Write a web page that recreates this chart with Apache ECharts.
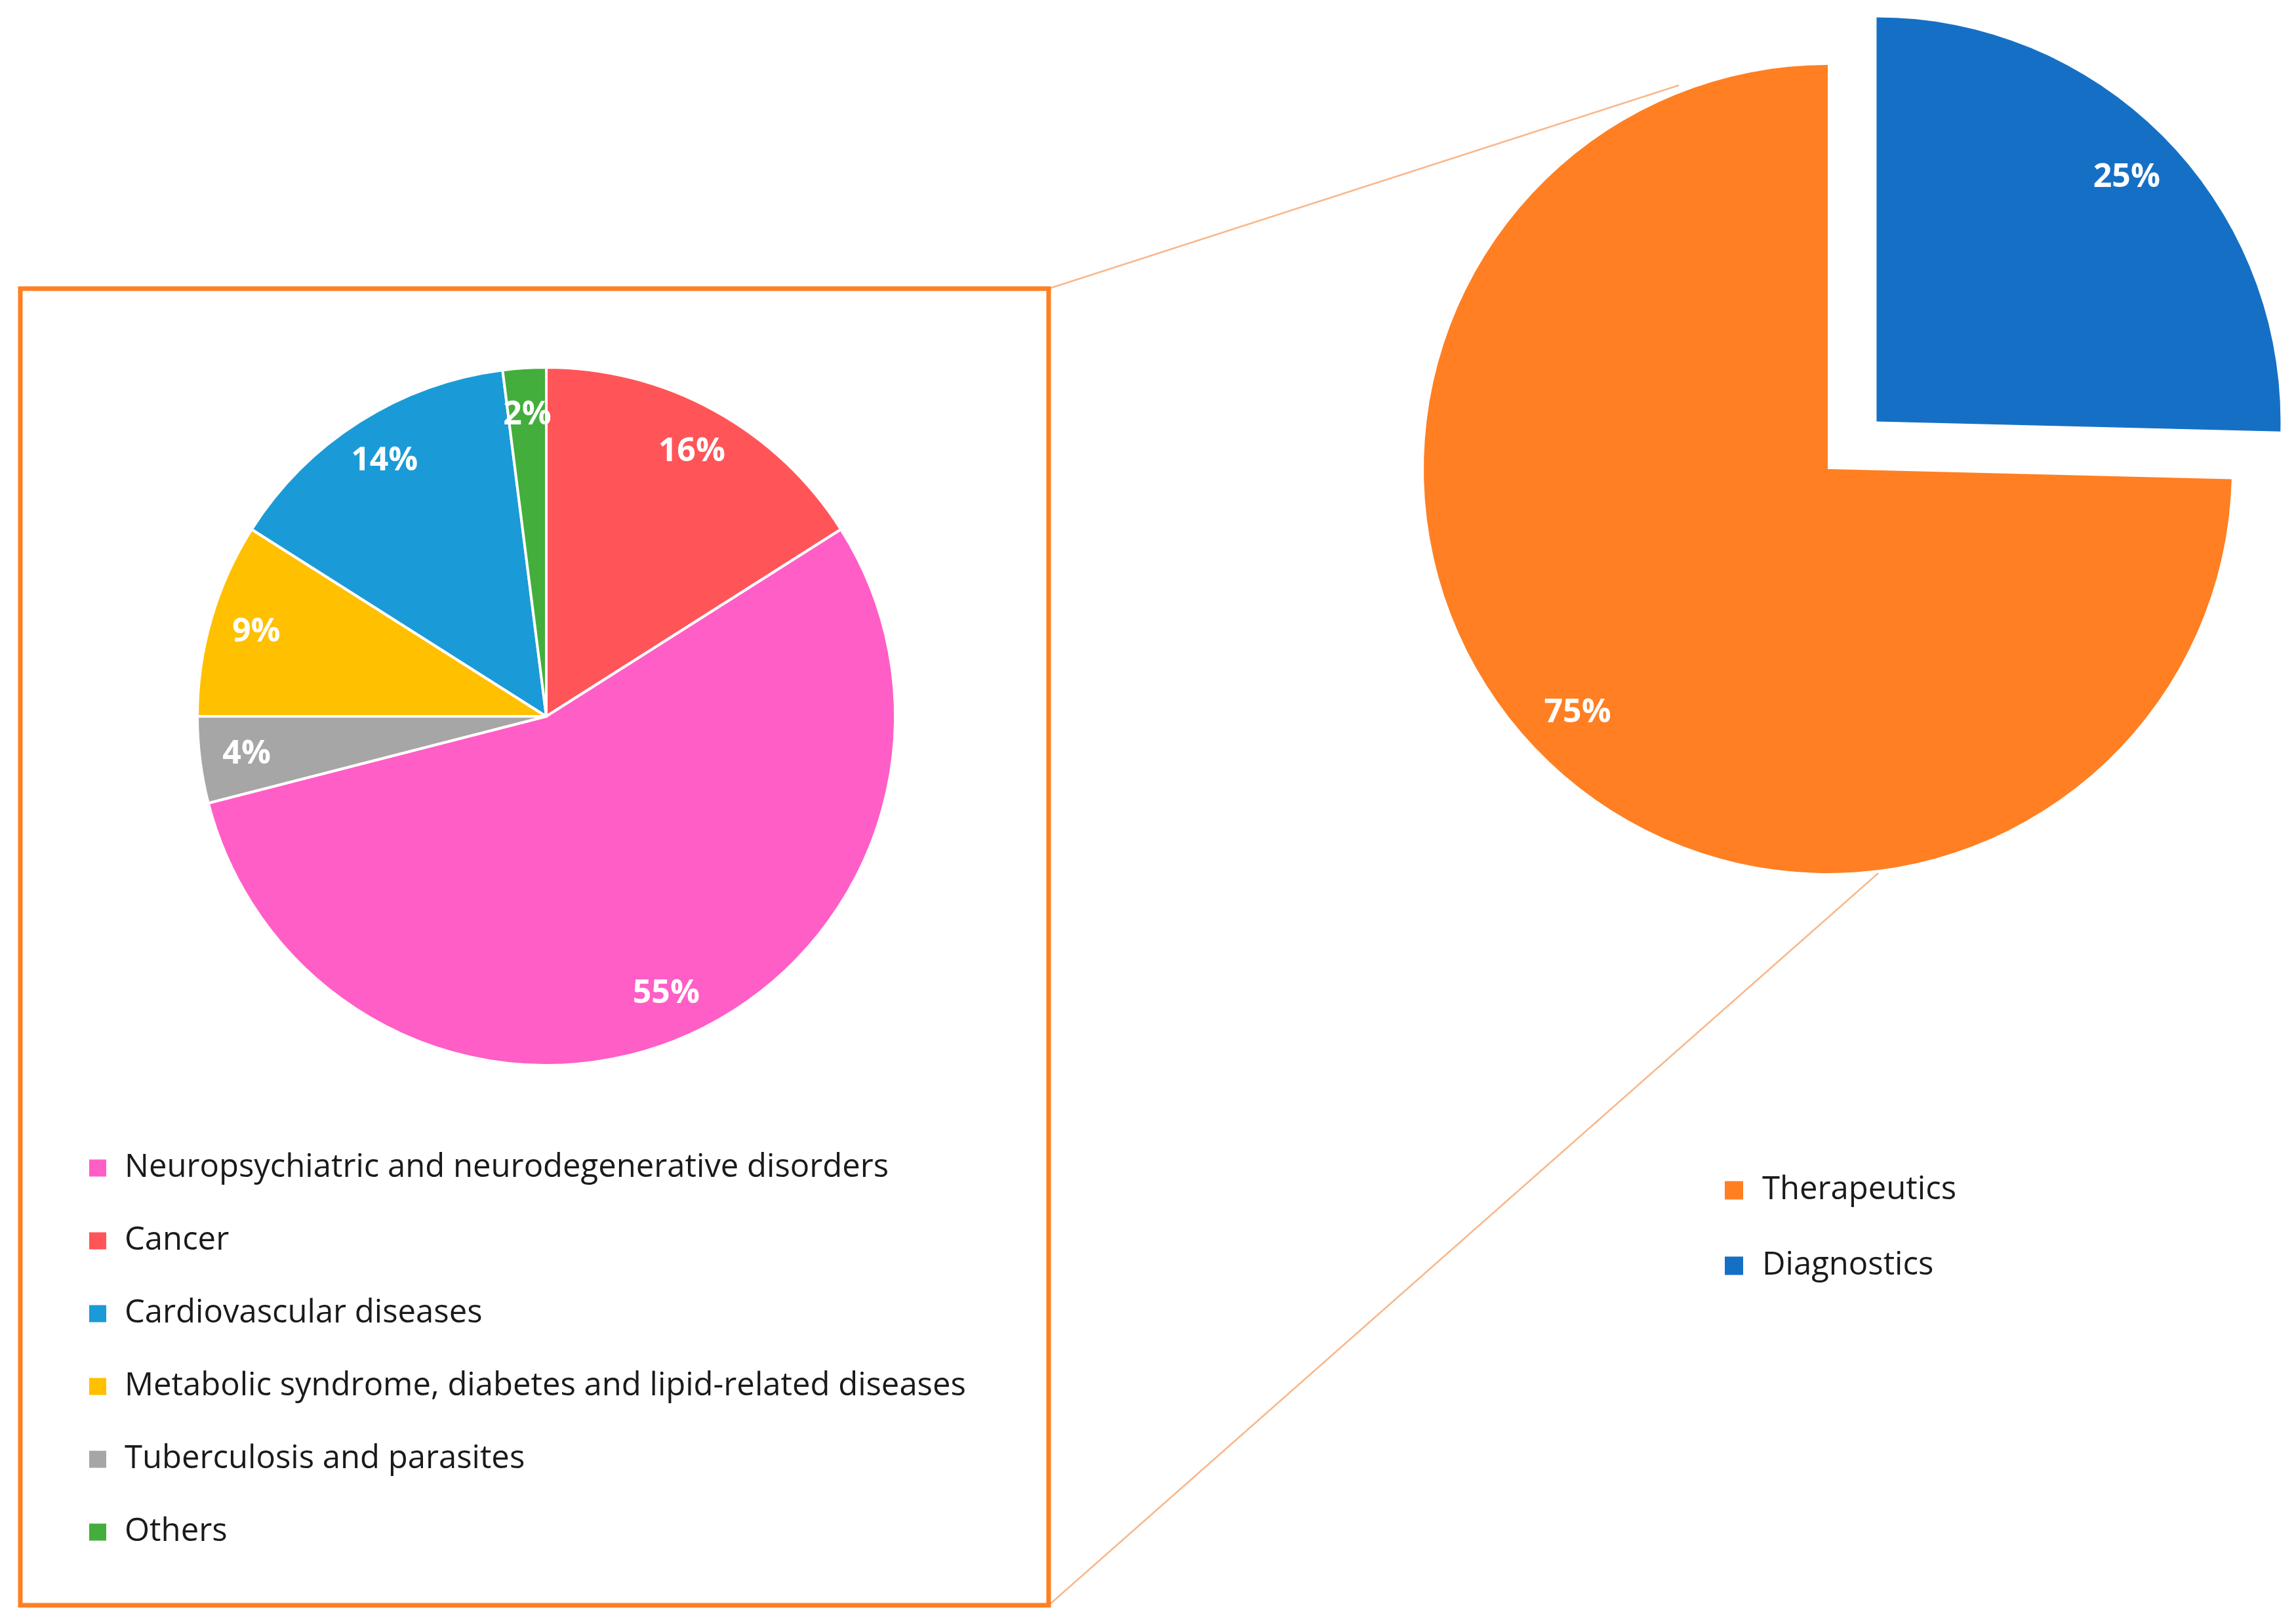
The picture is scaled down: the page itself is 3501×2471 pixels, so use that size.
<!DOCTYPE html>
<html>
<head>
<meta charset="utf-8">
<title>Applications</title>
<script src="https://cdn.jsdelivr.net/npm/echarts@6/dist/echarts.min.js"></script>
<style>
html, body {
  margin: 0;
  padding: 0;
  background: #fff;
}
#chart {
  width: 3501px;
  height: 2471px;
}
</style>
</head>
<body>
<div id="chart"></div>
<script>
// disease areas, in slice order (clockwise from 12 o'clock)
var diseaseNames = [
  'Cancer',
  'Neuropsychiatric and neurodegenerative disorders',
  'Tuberculosis and parasites',
  'Metabolic syndrome, diabetes and lipid-related diseases',
  'Cardiovascular diseases',
  'Others',
];
var diseaseValues = [16, 55, 4, 9, 14, 2];
var diseaseColors = ['#FF5558', '#FF5EC6', '#A6A6A6', '#FFC000', '#1A9BD7', '#43AE3B'];
// legend order is different from slice order
var diseaseLegend = [
  'Neuropsychiatric and neurodegenerative disorders',
  'Cancer',
  'Cardiovascular diseases',
  'Metabolic syndrome, diabetes and lipid-related diseases',
  'Tuberculosis and parasites',
  'Others',
];

// overall split
var useNames = ['Diagnostics', 'Therapeutics'];
var useValues = [25.4, 74.6];
var useColors = ['#1570C5', '#FF7F22'];
var useLegend = ['Therapeutics', 'Diagnostics'];

var font = 'Open Sans';

function pct(p) {
  return Math.round(p.percent) + '%';
}

var diseaseData = diseaseNames.map(function (n, i) {
  return { name: n, value: diseaseValues[i], itemStyle: { color: diseaseColors[i] } };
});
var useData = useNames.map(function (n, i) {
  return {
    name: n,
    value: useValues[i],
    selected: n === 'Diagnostics',
    itemStyle: { color: useColors[i] },
  };
});

var labelStyle = {
  show: true,
  position: 'inside',
  formatter: pct,
  color: '#fff',
  fontFamily: font,
  fontWeight: 'bold',
  fontSize: 50,
};

// transparent ring used only to push the labels out towards the rim
function labelRing(data, center, r, extra) {
  var s = {
    type: 'pie',
    center: center,
    radius: [r * 0.72, r],
    silent: true,
    animation: false,
    data: data.map(function (d) {
      return { name: d.name, value: d.value, selected: d.selected, itemStyle: { color: 'rgba(0,0,0,0)' } };
    }),
    itemStyle: { borderWidth: 0 },
    label: labelStyle,
    labelLine: { show: false },
    emphasis: { disabled: true },
  };
  return Object.assign(s, extra || {});
}

var myChart = echarts.init(document.getElementById('chart'));
myChart.setOption({
  backgroundColor: '#fff',
  animation: false,
  legend: [
    {
      data: diseaseLegend,
      orient: 'vertical',
      left: 134,
      top: 1756,
      padding: 0,
      itemWidth: 28,
      itemHeight: 28,
      itemGap: 62,
      icon: 'rect',
      selectedMode: false,
      textStyle: {
        fontFamily: font,
        fontSize: 49,
        lineHeight: 48,
        color: '#1a1a1a',
        padding: [0, 0, 0, 22],
      },
    },
    {
      data: useLegend,
      orient: 'vertical',
      left: 2630,
      top: 1790,
      padding: 0,
      itemWidth: 28,
      itemHeight: 28,
      itemGap: 66,
      icon: 'rect',
      selectedMode: false,
      textStyle: {
        fontFamily: font,
        fontSize: 49,
        lineHeight: 48,
        color: '#1a1a1a',
        padding: [0, 0, 0, 24],
      },
    },
  ],
  graphic: [
    {
      type: 'rect',
      shape: { x: 31, y: 440, width: 1568, height: 2007 },
      style: { fill: 'none', stroke: '#FF7F22', lineWidth: 7 },
      z: 10,
    },
    {
      type: 'line',
      shape: { x1: 1599, y1: 440, x2: 2560, y2: 130 },
      style: { stroke: '#F8B88B', lineWidth: 2.5 },
    },
    {
      type: 'line',
      shape: { x1: 1599, y1: 2447, x2: 2864, y2: 1331 },
      style: { stroke: '#F8B88B', lineWidth: 2.5 },
    },
  ],
  series: [
    {
      name: 'Disease',
      type: 'pie',
      center: [833, 1092],
      radius: 532,
      startAngle: 90,
      data: diseaseData,
      itemStyle: { borderColor: '#fff', borderWidth: 4 },
      label: { show: false },
      labelLine: { show: false },
      emphasis: { disabled: true },
    },
    {
      name: 'Use',
      type: 'pie',
      center: [2787, 715],
      radius: 616,
      startAngle: 90,
      selectedMode: 'single',
      selectedOffset: 104,
      data: useData,
      itemStyle: { borderWidth: 0 },
      label: { show: false },
      labelLine: { show: false },
      emphasis: { disabled: true },
      select: { itemStyle: { borderWidth: 0 } },
    },
    labelRing(diseaseData, [833, 1092], 532),
    labelRing(useData, [2787, 715], 616, { selectedMode: 'single', selectedOffset: 104 }),
  ],
});
</script>
</body>
</html>
